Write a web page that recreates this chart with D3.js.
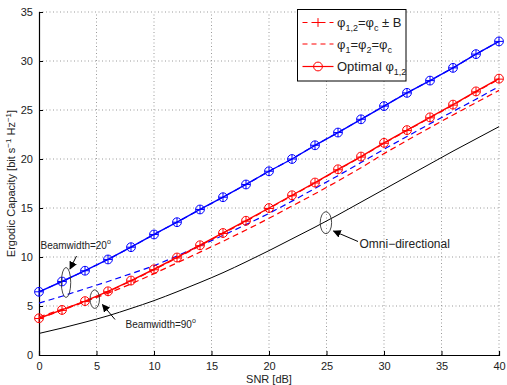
<!DOCTYPE html>
<html>
<head>
<meta charset="utf-8">
<script src="https://cdn.jsdelivr.net/npm/d3@7/dist/d3.min.js"></script>
<style>
  html, body { margin: 0; padding: 0; background: #fff; }
  svg { display: block; }
  text { font-family: "Liberation Sans", Arial, Helvetica, sans-serif; fill: #222; }
</style>
</head>
<body>
<svg id="chart" width="507" height="385"></svg>
<script>
// ---- data ----
const snr = [0,2,4,6,8,10,12,14,16,18,20,22,24,26,28,30,32,34,36,38,40];
const xTicks = [0,5,10,15,20,25,30,35,40];
const yTicks = [0,5,10,15,20,25,30,35];

// Beamwidth = 20 deg (blue)
const blueOptimal = [6.45,7.5,8.6,9.75,11.0,12.3,13.55,14.85,16.1,17.4,18.75,20.0,21.4,22.7,24.05,25.4,26.75,28.0,29.3,30.7,32.0];
const blueCB      = [6.45,7.5,8.6,9.75,11.0,12.3,13.55,14.85,16.1,17.4,18.75,20.0,21.4,22.7,24.05,25.4,26.75,28.0,29.3,30.7,32.0];
const blueC       = [5.3,6.0,6.75,7.5,8.3,9.1,10.1,11.15,12.2,13.3,14.45,15.7,17.0,18.3,19.65,21.0,22.3,23.6,24.85,26.1,27.4];

// Beamwidth = 90 deg (red)
const redOptimal = [3.75,4.6,5.5,6.5,7.6,8.75,9.95,11.2,12.45,13.7,15.0,16.3,17.6,18.95,20.25,21.65,22.95,24.25,25.55,26.9,28.2];
const redCB      = [3.72,4.55,5.45,6.45,7.55,8.7,9.9,11.15,12.4,13.65,14.95,16.25,17.55,18.9,20.2,21.6,22.9,24.2,25.5,26.85,28.15];
const redC       = [3.9,4.65,5.45,6.3,7.25,8.3,9.4,10.5,11.6,12.75,13.95,15.2,16.45,17.75,19.1,20.55,21.9,23.2,24.5,25.75,27.0];

// Omni-directional (black)
const omni = [2.2,2.75,3.35,4.0,4.75,5.55,6.45,7.4,8.4,9.5,10.65,11.85,13.05,14.3,15.6,16.9,18.2,19.5,20.8,22.05,23.3];

// ---- chart ----
const svg = d3.select("#chart");
const L = 39, R = 499, T = 12, B = 355;
const x = d3.scaleLinear().domain([0,40]).range([L,R]);
const y = d3.scaleLinear().domain([0,35]).range([B,T]);

// grid
const grid = svg.append("g");
grid.selectAll("line.vx").data(xTicks.slice(1)).join("line")
  .attr("x1", d => x(d)).attr("x2", d => x(d)).attr("y1", B).attr("y2", T)
  .attr("stroke", "#9a9a9a").attr("stroke-width", 1).attr("stroke-dasharray", "1,2.5");
grid.selectAll("line.hy").data(yTicks.slice(1)).join("line")
  .attr("x1", L).attr("x2", R).attr("y1", d => y(d)).attr("y2", d => y(d))
  .attr("stroke", "#9a9a9a").attr("stroke-width", 1).attr("stroke-dasharray", "1,2.5");

// axes
const xAxis = d3.axisBottom(x).tickValues(xTicks).tickSize(-4).tickPadding(7).tickFormat(d3.format("d"));
const yAxis = d3.axisLeft(y).tickValues(yTicks).tickSize(-4).tickPadding(6).tickFormat(d3.format("d"));
const gx = svg.append("g").attr("transform", `translate(0,${B})`).call(xAxis);
const gy = svg.append("g").attr("transform", `translate(${L},0)`).call(yAxis);
[gx, gy].forEach(g => {
  g.select(".domain").attr("stroke", "#000").attr("stroke-width", 1.2);
  g.selectAll(".tick line").attr("stroke", "#000");
  g.selectAll(".tick text").attr("font-size", 11).attr("fill", "#222")
    .style("font-family", '"Liberation Sans", Arial, sans-serif');
});

// axis labels
svg.append("text").attr("x", (L+R)/2).attr("y", 383).attr("text-anchor", "middle")
  .attr("font-size", 11).text("SNR [dB]");
const yl = svg.append("text").attr("transform", `translate(15,${(T+B)/2}) rotate(-90)`)
  .attr("text-anchor", "middle").attr("font-size", 11);
yl.append("tspan").text("Ergodic Capacity [bit s");
yl.append("tspan").attr("font-size", 8).attr("dy", -4).text("\u22121");
yl.append("tspan").attr("dy", 4).text(" Hz");
yl.append("tspan").attr("font-size", 8).attr("dy", -4).text("\u22121");
yl.append("tspan").attr("dy", 4).text("]");

// lines
const lineGen = vals => d3.line().x((d,i) => x(snr[i])).y(d => y(d))(vals);
const lineSmooth = vals => d3.line().curve(d3.curveMonotoneX).x((d,i) => x(snr[i])).y(d => y(d))(vals);
const BLUE = "#0000ff", RED = "#ff0000";

const series = [
  {v: omni, c: "#000", dash: null, w: 1, smooth: true},
  {v: blueC, c: BLUE, dash: "6,4", w: 1.2},
  {v: redC, c: RED, dash: "6,4", w: 1.2},
  {v: blueCB, c: BLUE, dash: "6,4", w: 1.2, plus: true},
  {v: redCB, c: RED, dash: "6,4", w: 1.2, plus: true},
  {v: blueOptimal, c: BLUE, dash: null, w: 1.4, circle: true},
  {v: redOptimal, c: RED, dash: null, w: 1.4, circle: true},
];
const MR = 4.4;
series.forEach(s => {
  svg.append("path").attr("d", s.smooth ? lineSmooth(s.v) : lineGen(s.v))
    .attr("fill", "none").attr("stroke", s.c).attr("stroke-width", s.w)
    .attr("stroke-dasharray", s.dash);
  if (s.plus) {
    const g = svg.append("g");
    g.selectAll("path").data(s.v).join("path")
      .attr("d", (d,i) => `M${x(snr[i])-MR},${y(d)}H${x(snr[i])+MR}M${x(snr[i])},${y(d)-MR}V${y(d)+MR}`)
      .attr("stroke", s.c).attr("stroke-width", 1).attr("fill", "none");
  }
  if (s.circle) {
    svg.append("g").selectAll("circle").data(s.v).join("circle")
      .attr("cx", (d,i) => x(snr[i])).attr("cy", d => y(d)).attr("r", MR)
      .attr("fill", "none").attr("stroke", s.c).attr("stroke-width", 1);
  }
});

// annotations
const ann = svg.append("g");
svg.append("defs").append("marker").attr("id", "ah").attr("viewBox", "0 0 10 10")
  .attr("refX", 9).attr("refY", 5).attr("markerWidth", 8).attr("markerHeight", 8)
  .attr("markerUnits", "userSpaceOnUse").attr("orient", "auto")
  .append("path").attr("d", "M0,0L10,5L0,10z").attr("fill", "#000");

function ellipse(cx, cy, rx, ry) {
  ann.append("ellipse").attr("cx", cx).attr("cy", cy).attr("rx", rx).attr("ry", ry)
    .attr("fill", "none").attr("stroke", "#333").attr("stroke-width", 0.9);
}
function arrow(x1, y1, x2, y2) {
  ann.append("line").attr("x1", x1).attr("y1", y1).attr("x2", x2).attr("y2", y2)
    .attr("stroke", "#000").attr("stroke-width", 1).attr("marker-end", "url(#ah)");
}
function label(tx, ty, main, sup, size) {
  const t = ann.append("text").attr("x", tx).attr("y", ty).attr("font-size", size);
  t.append("tspan").text(main);
  if (sup) t.append("tspan").attr("font-size", size*0.7).attr("dy", -5).text(sup);
}

ellipse(x(2.35), y(7.4), 4.7, 15);
arrow(76.5, 256, 70, 269);
label(40.5, 249, "Beamwidth=20", "o", 10);

ellipse(x(4.85), y(5.7), 4.7, 9.3);
arrow(115, 319.5, 102.5, 304.5);
label(125.5, 327.5, "Beamwidth=90", "o", 10);

ellipse(x(24.95), y(13.5), 5.7, 11);
arrow(358, 241.5, 333.5, 231);
label(359.5, 248, "Omni\u2212directional", null, 12);

// legend
const lg = svg.append("g");
lg.append("rect").attr("x", 297.5).attr("y", 9.5).attr("width", 108.5).attr("height", 71.5)
  .attr("fill", "#fff").attr("stroke", "#000").attr("stroke-width", 1);
const rows = [
  {yy: 22.5, dash: "5,4", plus: true, parts: [["\u03c6",""],["1,2","sub"],["=\u03c6",""],["c","sub"],[" \u00b1 B",""]]},
  {yy: 44, dash: "5,4", parts: [["\u03c6",""],["1","sub"],["=\u03c6",""],["2","sub"],["=\u03c6",""],["c","sub"]]},
  {yy: 66.5, dash: null, circle: true, parts: [["Optimal \u03c6",""],["1,2","sub"]]},
];
rows.forEach(r => {
  lg.append("line").attr("x1", 302.5).attr("x2", 333.5).attr("y1", r.yy).attr("y2", r.yy)
    .attr("stroke", RED).attr("stroke-width", 1.2).attr("stroke-dasharray", r.dash);
  if (r.plus) lg.append("path").attr("d", `M${318-MR},${r.yy}H${318+MR}M318,${r.yy-MR}V${r.yy+MR}`)
    .attr("stroke", RED).attr("stroke-width", 1);
  if (r.circle) lg.append("circle").attr("cx", 318).attr("cy", r.yy).attr("r", MR)
    .attr("fill", "none").attr("stroke", RED).attr("stroke-width", 1);
  const t = lg.append("text").attr("x", 337).attr("y", r.yy + 4.5).attr("font-size", 13);
  let shifted = false;
  r.parts.forEach(([s, k]) => {
    const sp = t.append("tspan").text(s);
    if (k === "sub" && !shifted) { sp.attr("dy", 4).attr("font-size", 9); shifted = true; }
    else if (k === "sub") { sp.attr("font-size", 9); }
    else if (shifted) { sp.attr("dy", -4); shifted = false; }
  });
});
</script>
</body>
</html>
